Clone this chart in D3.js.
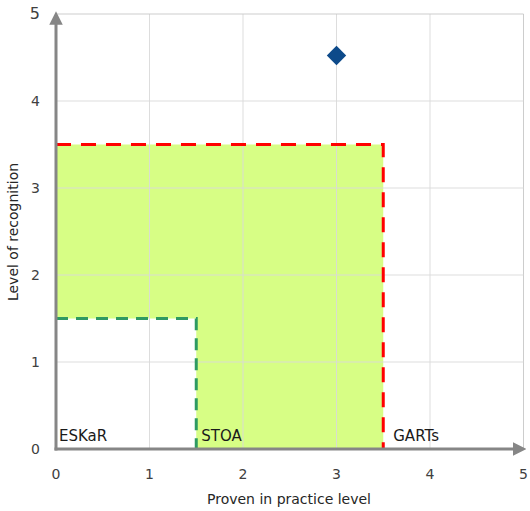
<!DOCTYPE html>
<html><head><meta charset="utf-8">
<script src="https://cdn.jsdelivr.net/npm/d3@7"></script>
<style>body{margin:0;background:#fff}svg{display:block}</style>
</head><body><svg id="c" width="530" height="511"></svg>
<script>
const xTicks = [0,1,2,3,4,5];
const yTicks = [0,1,2,3,4,5];
const regions = [
  {name:"ESKaR", x:0, limit:1.5},
  {name:"STOA", x:1.5, limit:3.5},
  {name:"GARTs", x:3.5, limit:5}
];
const greenBox = [[0,1.5],[1.5,1.5],[1.5,0]];
const redBox = [[0,3.5],[3.5,3.5],[3.5,0]];
const fillZone = [[0,1.5],[0,3.5],[3.5,3.5],[3.5,0],[1.5,0],[1.5,1.5]];
const points = [{x:3, y:4.5}];

const svg = d3.select("#c");
const x = d3.scaleLinear().domain([0,5]).range([56,523.5]);
const y = d3.scaleLinear().domain([0,5]).range([449,14]);
const font = "'DejaVu Sans', Verdana, sans-serif";
const line = d3.line().x(d=>x(d[0])).y(d=>y(d[1]));

// fill
svg.append("path").attr("d", line(fillZone)+"Z").attr("fill","#d7fe85");

// grid
const g = svg.append("g");
g.selectAll(".vx").data(xTicks.slice(1)).join("line")
  .attr("x1",d=>x(d)).attr("x2",d=>x(d)).attr("y1",y(0)).attr("y2",y(5))
  .attr("stroke",d=>d===5?"#c8c8c8":"#d9d9d9").attr("stroke-opacity",0.9).attr("stroke-width",1);
g.selectAll(".hy").data(yTicks.slice(1)).join("line")
  .attr("x1",x(0)).attr("x2",x(5)).attr("y1",d=>y(d)).attr("y2",d=>y(d))
  .attr("stroke",d=>d===5?"#c8c8c8":"#d9d9d9").attr("stroke-opacity",0.9).attr("stroke-width",1);

// dashed boxes
svg.append("path").attr("d", line(greenBox)).attr("fill","none")
  .attr("stroke","#2e9a62").attr("stroke-width",3).attr("stroke-dasharray","12,8");
svg.append("path").attr("d", line(redBox)).attr("fill","none")
  .attr("stroke","#ff0000").attr("stroke-width",3).attr("stroke-dasharray","15,10");

// axes with arrows
const defs = svg.append("defs");
defs.append("marker").attr("id","arr").attr("viewBox","0 0 10 10").attr("refX",2).attr("refY",5)
  .attr("markerWidth",4.5).attr("markerHeight",4.5).attr("orient","auto")
  .append("path").attr("d","M0,0L10,5L0,10Z").attr("fill","#868686");
svg.append("line").attr("x1",x(0)-1.5).attr("x2",x(5)-8).attr("y1",y(0)).attr("y2",y(0))
  .attr("stroke","#868686").attr("stroke-width",3).attr("marker-end","url(#arr)");
svg.append("line").attr("x1",x(0)).attr("x2",x(0)).attr("y1",y(0)+1.5).attr("y2",y(5)+8)
  .attr("stroke","#868686").attr("stroke-width",3).attr("marker-end","url(#arr)");

// tick labels
svg.selectAll(".xt").data(xTicks).join("text")
  .attr("x",d=>x(d)).attr("y",479).attr("text-anchor","middle")
  .attr("font-family",font).attr("font-size",14).attr("fill","#404040").text(d=>d);
svg.selectAll(".yt").data(yTicks).join("text")
  .attr("x",40).attr("y",d=>y(d)+5).attr("text-anchor","end")
  .attr("font-family",font).attr("font-size",d=>d===5?16:14).attr("fill","#404040").text(d=>d);

// region labels
svg.selectAll(".rl").data(regions).join("text")
  .attr("x",(d,i)=>x(d.x)+[3,5,10][i]).attr("y",441)
  .attr("font-family",font).attr("font-size",15).attr("fill","#1a1a1a").text(d=>d.name);

// diamond
svg.selectAll(".pt").data(points).join("path")
  .attr("d", d3.symbol().type(d3.symbolDiamond2).size(240))
  .attr("transform", d=>`translate(${x(d.x)},${y(d.y)-2})`)
  .attr("fill","#0d4a8a");

// axis titles
svg.append("text").attr("x",289).attr("y",504).attr("text-anchor","middle")
  .attr("font-family",font).attr("font-size",14).attr("fill","#262626").text("Proven in practice level");
svg.append("text").attr("transform","translate(18,232) rotate(-90)").attr("text-anchor","middle")
  .attr("font-family",font).attr("font-size",14).attr("fill","#262626").text("Level of recognition");
</script></body></html>
